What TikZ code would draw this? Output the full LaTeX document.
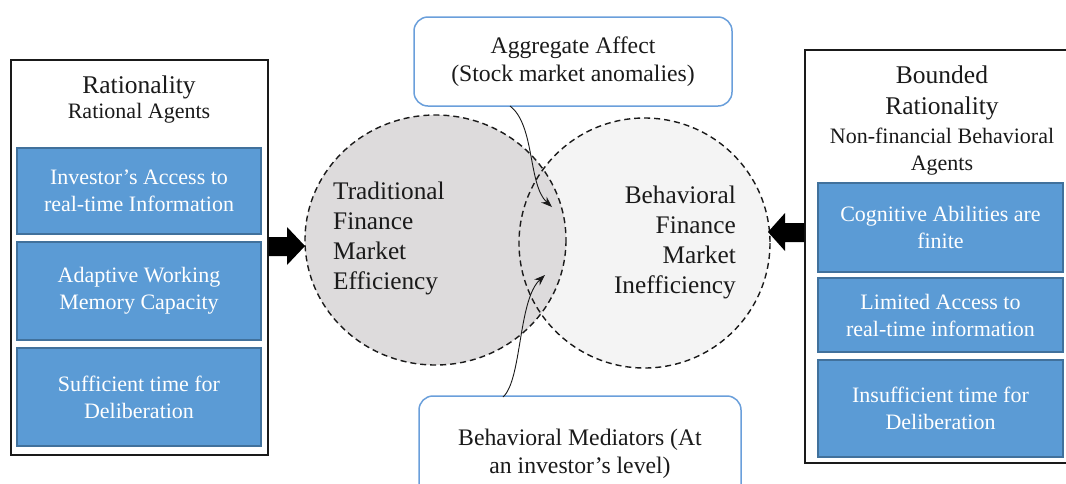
\documentclass[tikz,border=0pt]{standalone}
\usepackage{fontspec}
\setmainfont{Liberation Serif}
\usetikzlibrary{arrows.meta}
\definecolor{bluefill}{HTML}{5B9BD5}
\definecolor{blueedge}{HTML}{41719C}
\definecolor{calloutedge}{HTML}{6A9FDB}
\definecolor{leftgray}{HTML}{DDDBDC}
\definecolor{rightgray}{HTML}{F4F4F4}
\definecolor{ink}{HTML}{1A1A1A}
\tikzset{
  outerbox/.style={draw=ink, line width=1.2pt, fill=white, inner sep=0pt},
  bluebox/.style={draw=blueedge, line width=1.6pt, fill=bluefill, text=white, align=center,
    inner sep=0pt, minimum width=244pt, font=\fontsize{22}{27}\selectfont},
  callout/.style={draw=calloutedge, line width=1.5pt, fill=white, rounded corners=14pt,
    align=center, inner sep=0pt, text=ink, font=\fontsize{23.7}{27.5}\selectfont},
  bigtitle/.style={text=ink, inner sep=0pt, font=\fontsize{25.5}{31}\selectfont, align=center},
  subtitle/.style={text=ink, inner sep=0pt, font=\fontsize{22}{27}\selectfont, align=center},
  circtext/.style={text=ink, inner sep=0pt, font=\fontsize{25.3}{30}\selectfont},
  venn/.style={draw=ink, line width=1.4pt, dash pattern=on 6pt off 4pt},
  curvearrow/.style={draw=ink, line width=0.9pt, -{Stealth[length=11pt,width=8pt]}},
  blockarrow/.style={fill=black}
}
\begin{document}
\begin{tikzpicture}[x=1pt,y=-1pt]
\useasboundingbox (0,0) rectangle (1066,483);
\fill[white] (0,0) rectangle (1066,483);

% Left panel
\node[outerbox, minimum width=257pt, minimum height=395pt] (leftouter) at (139.5,257.5) {};
\node[bigtitle] (ltitle) at (139,87) {Rationality};
\node[subtitle] (lsub) at (139,113) {Rational Agents};
\node[bluebox, minimum height=86pt] (lb1) at (139,191) {Investor’s Access to\\real-time Information};
\node[bluebox, minimum height=98pt] (lb2) at (139,291) {Adaptive Working\\Memory Capacity};
\node[bluebox, minimum height=98pt] (lb3) at (139,397) {Sufficient time for\\Deliberation};

% Right panel
\node[outerbox, minimum width=265pt, minimum height=413pt] (rightouter) at (937.5,256.5) {};
\node[bigtitle] (rtitle) at (942,92.5) {Bounded\\Rationality};
\node[subtitle] (rsub) at (942,151.5) {Non-financial Behavioral\\Agents};
\node[bluebox, minimum width=245pt, minimum height=89pt] (rb1) at (940.5,227.5) {Cognitive Abilities are\\finite};
\node[bluebox, minimum width=245pt, minimum height=74pt] (rb2) at (940.5,315) {Limited Access to\\real-time information};
\node[bluebox, minimum width=245pt, minimum height=97pt] (rb3) at (940.5,408.5) {Insufficient time for\\Deliberation};

% Venn circles
\fill[rightgray] (644.5,243) ellipse [x radius=125.5, y radius=125];
\fill[leftgray] (435.5,240) ellipse [x radius=130.5, y radius=125];
\draw[venn] (644.5,243) ellipse [x radius=125.5, y radius=125];
\draw[venn] (435.5,240) ellipse [x radius=130.5, y radius=125];
\node (leftcirc) at (435.5,240) {};
\node (rightcirc) at (644.5,243) {};
\node[circtext, anchor=west, align=left] (tradtext) at (333,238) {Traditional\\Finance\\Market\\Efficiency};
\node[circtext, anchor=east, align=right] (behtext) at (736,242) {Behavioral\\Finance\\Market\\Inefficiency};

% Callouts
\node[callout, minimum width=318pt, minimum height=89pt] (topbox) at (573,61.5) {Aggregate Affect\\(Stock market anomalies)};
\node[callout, minimum width=322pt, minimum height=116pt] (botbox) at (580,454) {Behavioral Mediators (At\\an investor’s level)};

% Curved arrows
\coordinate (toptip) at (552,207);
\coordinate (bottip) at (545,275);
\draw[curvearrow] (510,106) .. controls (535,125) and (528,185) .. (toptip);
\draw[curvearrow] (503,397) .. controls (522,380) and (518,300) .. (bottip);

% Block arrows
\fill[blockarrow] (leftouter.east |- 0,237) -- (287,237) -- (287,227) -- (305,246) -- (287,265) -- (287,256) -- (leftouter.east |- 0,256) -- cycle;
\fill[blockarrow] (rightouter.west |- 0,223) -- (785,223) -- (785,213) -- (768,232) -- (785,251) -- (785,242) -- (rightouter.west |- 0,242) -- cycle;
\end{tikzpicture}
\end{document}
